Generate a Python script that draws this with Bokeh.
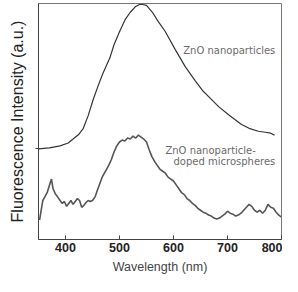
from bokeh.plotting import figure
from bokeh.models import Range1d, FixedTicker, Label, Title
from bokeh.embed import file_html
from bokeh.resources import INLINE

# Upper curve: ZnO nanoparticles (wavelength nm, intensity a.u.)
np_wl = [350, 370, 390, 405, 414, 425, 433, 442, 451, 460, 469, 482, 490, 500, 511, 520,
         530, 537, 543, 550, 561, 570, 585, 603, 622, 640, 655, 666, 684, 702, 726, 740,
         757, 770, 780, 787]
np_int = [93, 94, 96, 99, 103, 108, 114, 127, 143, 157, 170, 186, 200, 213, 226, 233,
          239, 241, 241, 240, 233, 225, 213, 195, 177, 163, 152, 146, 136, 128, 118, 114,
          111, 110, 109, 107]

# Lower curve: ZnO nanoparticle-doped microspheres
ms_wl = [352, 355, 358, 362, 366, 370, 374, 377, 381, 385, 390, 394, 398, 402, 406, 410,
         414, 418, 422, 426, 430, 434, 438, 442, 446, 450, 455, 460, 464, 468, 472, 476,
         480, 485, 490, 495, 500, 505, 510, 515, 520, 525, 530, 535, 540, 545, 550, 555,
         560, 565, 570, 575, 580, 585, 590, 595, 600, 605, 610, 615, 620, 625, 630, 635,
         640, 645, 650, 655, 660, 665, 670, 675, 680, 685, 690, 695, 700, 705, 710, 715,
         720, 725, 730, 735, 740, 745, 750, 755, 760, 765, 770, 775, 780, 785, 790, 795, 800]
ms_int = [20, 30, 40, 44, 48, 55, 62, 52, 47, 44, 40, 37, 39, 34, 37, 40,
          36, 39, 42, 40, 33, 35, 38, 40, 39, 40, 44, 52, 58, 64, 68, 72,
          76, 82, 90, 96, 100, 102, 101, 104, 103, 106, 104, 107, 105, 103, 100, 92,
          85, 80, 76, 72, 70, 68, 64, 62, 60, 56, 52, 48, 46, 42, 40, 37,
          35, 32, 30, 28, 27, 25, 24, 22, 21, 22, 24, 26, 29, 27, 26, 24,
          25, 27, 30, 33, 36, 34, 30, 28, 30, 27, 30, 36, 33, 32, 28, 25, 23]

x_ticks = [400, 500, 600, 700, 800]
y_ticks = [93]

labels = [("ZnO nanoparticles", 618, 194),
          ("ZnO nanoparticle-", 585, 91),
          ("doped microspheres", 600, 80)]

x_title = "Wavelength (nm)"
y_title = "Fluorescence Intensity (a.u.)"

p = figure(width=282, height=276, output_backend="svg", toolbar_location=None,
           x_range=Range1d(350, 800), y_range=Range1d(0, 242),
           min_border_left=38, min_border_right=1, min_border_top=3, min_border_bottom=0)

p.grid.visible = False
p.background_fill_color = "white"
p.border_fill_color = "white"
p.outline_line_color = "#777777"
p.outline_line_width = 1

p.line(np_wl, np_int, line_color="#333333", line_width=1.2)
p.line(ms_wl, ms_int, line_color="#555555", line_width=1.6)

xa = p.xaxis[0]
xa.ticker = FixedTicker(ticks=x_ticks)
xa.major_tick_in = 4
xa.major_tick_out = 0
xa.minor_tick_line_color = None
xa.axis_line_color = "#444444"
xa.major_tick_line_color = "#444444"
xa.major_label_text_font = "Liberation Sans"
xa.major_label_text_font_size = "12.5px"
xa.major_label_text_font_style = "bold"
xa.major_label_text_color = "#222222"
xa.major_label_standoff = 3

ya = p.yaxis[0]
ya.ticker = FixedTicker(ticks=y_ticks)
ya.major_label_overrides = {93: ""}
ya.major_tick_in = 3
ya.major_tick_out = 3
ya.minor_tick_line_color = None
ya.axis_line_color = "#444444"
ya.major_tick_line_color = "#444444"
ya.major_label_standoff = 0
ya.axis_label = y_title
ya.axis_label_text_font = "Liberation Sans"
ya.axis_label_text_font_size = "16px"
ya.axis_label_text_font_style = "normal"
ya.axis_label_text_color = "#222222"
ya.axis_label_standoff = 10

# x-axis title as a panel below the axis
p.add_layout(Title(text=x_title, align="center", text_font="Liberation Sans",
                   text_font_size="12.5px", text_font_style="normal",
                   text_color="#444444", standoff=6, offset=0), "below")

for txt, lx, ly in labels:
    p.add_layout(Label(x=lx, y=ly, text=txt, text_font="DejaVu Sans",
                       text_font_size="10px", text_color="#6a6a6a",
                       text_baseline="middle", text_align="left"))

open("out.html", "w").write(file_html(p, INLINE))
